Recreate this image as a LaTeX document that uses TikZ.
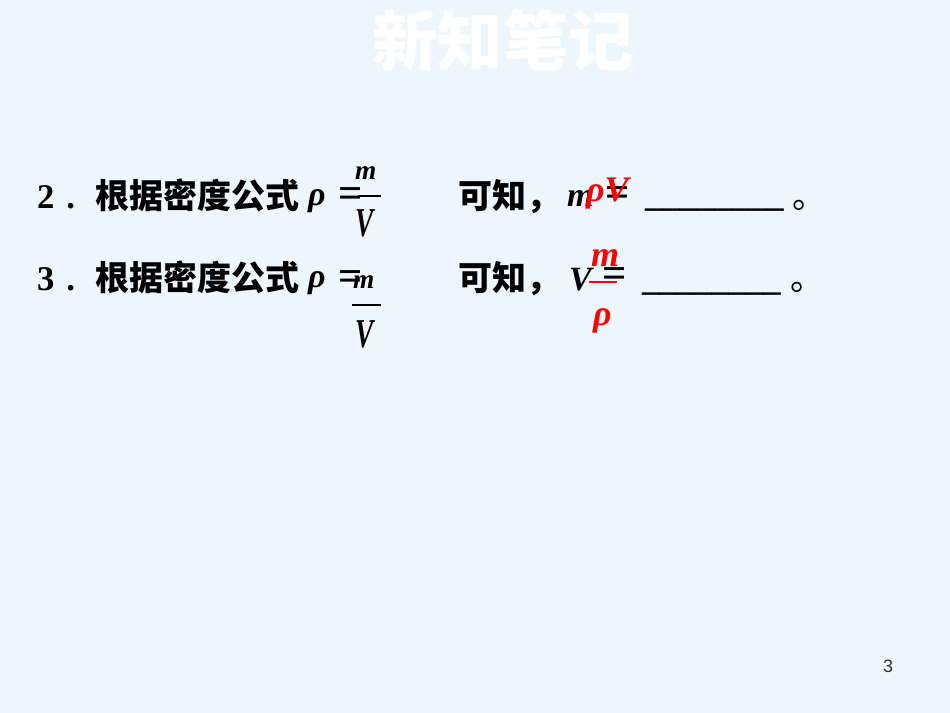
\documentclass[tikz,border=0pt]{standalone}
\usepackage{graphicx}
\usepackage{fontspec}
\setmainfont{Liberation Serif}
\newfontfamily\cjk{Noto Sans CJK SC}
\newfontfamily\pgnum{Liberation Sans}
\definecolor{slidebg}{HTML}{EEF6FD}
\definecolor{pgcol}{HTML}{333333}

\begin{document}
\begin{tikzpicture}[x=0.75pt,y=-0.75pt,
        every node/.style={inner sep=0pt,outer sep=0pt,anchor=base west},
        zh/.style={font=\cjk\bfseries\fontsize{25.5}{30}\selectfont},
        num/.style={font=\bfseries\fontsize{26}{30}\selectfont},
        eqs/.style={font=\bfseries\fontsize{32}{36}\selectfont},
        sym/.style={font=\bfseries\itshape\fontsize{25.5}{30}\selectfont},
        frac/.style={font=\bfseries\itshape\fontsize{20.5}{24}\selectfont},
        ans/.style={text=red,font=\bfseries\itshape\fontsize{27}{30}\selectfont},
        bar/.style={line width=0.9pt}]
        \fill [slidebg] (0,0) rectangle (950,713);
        \node (title) [anchor=center,text=white,font=\cjk\bfseries\fontsize{49}{55}\selectfont] at (503,40) {新知笔记};
        % line 2
        \node (num2) [num] at (37,209) {2\kern0.35em.};
        \node (zh2) [zh] at (95,209) {根据密度公式};
        \node (rho2) [sym] at (308,206) {ρ};
        \node (eq2) [eqs] at (338,208) {=};
        \node (m2) [frac] at (355,180) {m};
        \draw [bar] (358,196) -- (381,196);
        \node (V2) [frac] at (355,237) {\scalebox{1}[1.5]{V}};
        \node (kz2) [zh] at (458,209) {可知，};
        \node (mm2) [sym] at (567,207) {m};
        \node (eqb2) [eqs] at (605,207) {=};
        \node (ans2) [ans] at (586,202) {ρV};
        \node (ul2) [num] at (645,207) {\_\_\_\_\_\_\_\_};
        \node (dot2) [font=\cjk\fontsize{25.5}{30}\selectfont] at (792,209) {。};
        % line 3
        \node (num3) [num] at (37,290) {3\kern0.35em.};
        \node (zh3) [zh] at (95,290) {根据密度公式};
        \node (rho3) [sym] at (308,287) {ρ};
        \node (eq3) [eqs] at (338,291) {=};
        \node (m3) [frac] at (353,288) {m};
        \draw [bar] (352,305) -- (381,305);
        \node (V3) [frac] at (355,347) {\scalebox{1}[1.5]{V}};
        \node (kz3) [zh] at (458,290) {可知，};
        \node (VV3) [sym] at (569,290) {V};
        \node (eqb3) [eqs] at (602,287) {=};
        \node (ansm3) [ans] at (591,267) {m};
        \draw [bar,red] (589,282) -- (617,282);
        \node (ansr3) [ans] at (593,325) {ρ};
        \node (ul3) [num] at (642,290) {\_\_\_\_\_\_\_\_};
        \node (dot3) [font=\cjk\fontsize{25.5}{30}\selectfont] at (790,290) {。};
        \node (page) [text=pgcol,font=\pgnum\fontsize{13.5}{16}\selectfont] at (883,672) {3};
    \end{tikzpicture}
\end{document}
